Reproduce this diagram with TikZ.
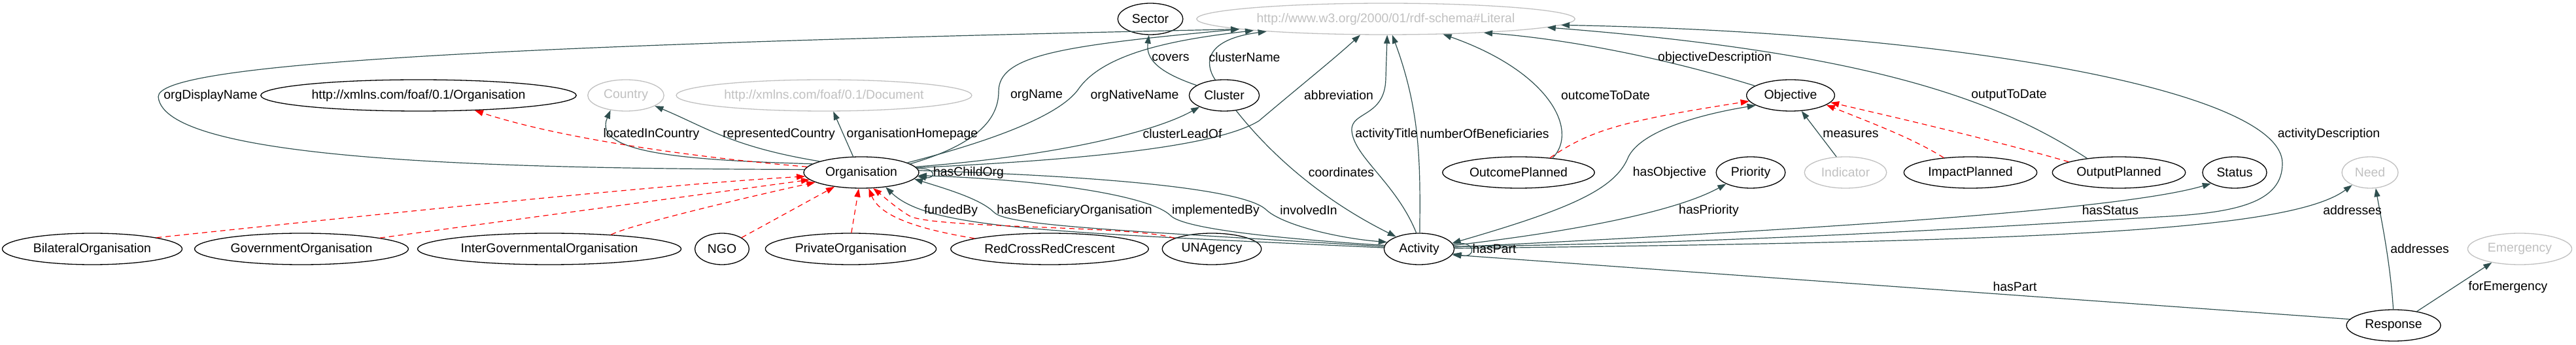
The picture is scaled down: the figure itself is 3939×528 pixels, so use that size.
\documentclass[tikz,border=0pt]{standalone}
\usepackage{fontspec}
\setmainfont{Liberation Sans}
\usetikzlibrary{arrows.meta,shapes.geometric}
\definecolor{edgec}{HTML}{2F4F4F}
\definecolor{ghost}{HTML}{C0C0C0}
\begin{document}
\begin{tikzpicture}[x=0.5pt,y=-0.5pt,font=\fontsize{9.7}{11}\selectfont,
  >={Triangle[length=6.5pt,width=4.6pt]},
  cls/.style={ellipse,draw,line width=0.65pt,minimum height=24pt,inner xsep=3.6pt,inner ysep=0pt},
  ext/.style={cls,draw=ghost,text=ghost},
  rel/.style={->,draw=edgec,line width=0.6pt},
  sub/.style={->,draw=red,dash pattern=on 4pt off 3pt,line width=0.6pt},
  lbl/.style={inner sep=0pt}]
\useasboundingbox (0,0) rectangle (3939,528);
\node[ext] (lit) at (2119,29) {http://www.w3.org/2000/01/rdf-schema\#Literal};
\node[cls] (sector) at (1759,29) {Sector};
\node[cls] (foafOrg) at (640,146) {http://xmlns.com/foaf/0.1/Organisation};
\node[ext] (country) at (957,146) {Country};
\node[ext] (document) at (1260,146) {http://xmlns.com/foaf/0.1/Document};
\node[cls] (cluster) at (1872,146) {Cluster};
\node[cls] (objective) at (2738,146) {Objective};
\node[cls] (org) at (1317,264) {Organisation};
\node[cls] (outcomePlanned) at (2322,264) {OutcomePlanned};
\node[cls] (priority) at (2677,264) {Priority};
\node[ext] (indicator) at (2822,264) {Indicator};
\node[cls] (impactPlanned) at (3013,264) {ImpactPlanned};
\node[cls] (outputPlanned) at (3240,264) {OutputPlanned};
\node[cls] (status) at (3417,264) {Status};
\node[ext] (need) at (3624,264) {Need};
\node[cls] (bilateral) at (141,381) {BilateralOrganisation};
\node[cls] (government) at (461,381) {GovernmentOrganisation};
\node[cls] (interGov) at (840,381) {InterGovernmentalOrganisation};
\node[cls] (ngo) at (1104,381) {NGO};
\node[cls] (privateOrg) at (1301,381) {PrivateOrganisation};
\node[cls] (redCross) at (1605,381) {RedCrossRedCrescent};
\node[cls] (unAgency) at (1853,381) {UNAgency};
\node[cls] (activity) at (2170,381) {Activity};
\node[ext] (emergency) at (3853,381) {Emergency};
\node[cls] (response) at (3660,498) {Response};

\draw[rel] (org.177) .. controls (800,258) and (250,250) .. (242,148) .. controls (242,100) and (700,70) .. (lit.184);
\draw[rel] (org.10) .. controls (1480,225) and (1527,190) .. (1527,140) .. controls (1527,85) and (1620,70) .. (lit.184.5);
\draw[rel] (org.12) .. controls (1500,220) and (1620,180) .. (1650,135) .. controls (1690,80) and (1800,60) .. (lit.185);
\draw[rel] (org.5) .. controls (1650,245) and (1860,225) .. (1925,185) .. controls (1990,130) and (2040,90) .. (lit.212);
\draw[rel] (org.170) .. controls (1050,245) and (905,235) .. (country.224);
\draw[rel] (org.165) .. controls (1120,225) and (1080,195) .. (country.340);
\draw[rel] (org.117) -- (document.300);
\draw[rel] (org.6) .. controls (1600,240) and (1760,205) .. (cluster.205);
\draw[rel] (org.4) .. controls (1432,256) and (1432,274) .. (org.-4);
\draw[rel] (org.2) .. controls (1700,270) and (1900,290) .. (1935,320) .. controls (1960,345) and (2050,365) .. (activity.168);
\draw[rel] (activity.178) .. controls (1600,355) and (1420,350) .. (org.329);
\draw[rel] (activity.176) .. controls (1700,352) and (1540,345) .. (1520,325) .. controls (1500,305) and (1450,290) .. (org.353);
\draw[rel] (activity.174) .. controls (1950,365) and (1810,350) .. (1790,330) .. controls (1760,300) and (1600,275) .. (org.357);
\draw[rel] (cluster.160) .. controls (1770,110) and (1752,90) .. (sector.265);
\draw[rel] (cluster.120) .. controls (1840,95) and (1845,60) .. (lit.186);
\draw[rel] (cluster.308) .. controls (1950,245) and (2030,310) .. (activity.152);
\draw[rel] (activity.100) .. controls (2135,280) and (2070,240) .. (2067,200) .. controls (2065,170) and (2118,180) .. (2119,120) -- (lit.275);
\draw[rel] (activity.88) .. controls (2172,250) and (2172,170) .. (lit.292);
\draw[rel] (outcomePlanned.23) .. controls (2415,200) and (2370,110) .. (lit.345);
\draw[rel] (objective.165) .. controls (2550,90) and (2400,60) .. (lit.352.5);
\draw[rel] (outputPlanned.156) .. controls (3050,150) and (2850,80) .. (lit.357);
\draw[rel] (activity.4) .. controls (2700,372) and (3160,340) .. (3300,332) .. controls (3420,326) and (3490,310) .. (3490,250) .. controls (3490,140) and (3000,50) .. (lit.358.5);
\draw[rel,<->] (activity.10) .. controls (2400,320) and (2470,290) .. (2490,240) .. controls (2510,200) and (2600,175) .. (objective.196);
\draw[rel] (activity.6) .. controls (2400,355) and (2560,325) .. (priority.205);
\draw[rel] (activity.3) .. controls (2800,350) and (3250,320) .. (status.205);
\draw[rel] (activity.1) .. controls (3100,370) and (3500,355) .. (need.215);
\draw[rel] (activity.8) .. controls (2258,366) and (2258,396) .. (activity.-8);
\draw[rel] (response.172) -- (activity.-10);
\draw[rel] (response.91) .. controls (3655,400) and (3640,330) .. (need.290);
\draw[rel] (response.31) -- (emergency.206);
\draw[rel] (indicator.120) -- (objective.305);

\draw[sub] (org.174) .. controls (1050,240) and (850,210) .. (foafOrg.345);
\draw[sub] (bilateral.10) .. controls (700,315) and (1050,280) .. (org.184);
\draw[sub] (government.8) -- (org.188);
\draw[sub] (interGov.13) .. controls (960,345) and (1150,300) .. (org.192);
\draw[sub] (ngo.30) -- (org.208);
\draw[sub] (privateOrg.88) -- (org.261);
\draw[sub] (redCross.172) .. controls (1400,350) and (1345,330) .. (org.295);
\draw[sub] (unAgency.164) .. controls (1740,345) and (1420,350) .. (1390,330) .. controls (1370,318) and (1350,300) .. (org.307);
\draw[sub] (outcomePlanned.25) .. controls (2430,200) and (2480,185) .. (objective.188);
\draw[sub] (impactPlanned.151) .. controls (2930,215) and (2880,195) .. (objective.345);
\draw[sub] (outputPlanned.168) .. controls (3050,215) and (2900,180) .. (objective.350);

\node[lbl] (lOrgDisplayName) at (322,146) {orgDisplayName};
\node[lbl] (lLocatedInCountry) at (996,205) {locatedInCountry};
\node[lbl] (lRepresentedCountry) at (1191,205) {representedCountry};
\node[lbl] (lOrganisationHomepage) at (1395,205) {organisationHomepage};
\node[lbl] (lOrgName) at (1585,146) {orgName};
\node[lbl] (lOrgNativeName) at (1735,146) {orgNativeName};
\node[lbl] (lCovers) at (1790,88) {covers};
\node[lbl] (lClusterName) at (1903,88) {clusterName};
\node[lbl] (lClusterLeadOf) at (1808,205) {clusterLeadOf};
\node[lbl] (lHasChildOrg) at (1481,264) {hasChildOrg};
\node[lbl] (lFundedBy) at (1454,322) {fundedBy};
\node[lbl] (lHasBeneficiaryOrganisation) at (1643,322) {hasBeneficiaryOrganisation};
\node[lbl] (lImplementedBy) at (1859,322) {implementedBy};
\node[lbl] (lInvolvedIn) at (2001,322) {involvedIn};
\node[lbl] (lAbbreviation) at (2047,146) {abbreviation};
\node[lbl] (lActivityTitle) at (2120,205) {activityTitle};
\node[lbl] (lNumberOfBeneficiaries) at (2270,205) {numberOfBeneficiaries};
\node[lbl] (lCoordinates) at (2051,264) {coordinates};
\node[lbl] (lOutcomeToDate) at (2455,146) {outcomeToDate};
\node[lbl] (lObjectiveDescription) at (2622,88) {objectiveDescription};
\node[lbl] (lMeasures) at (2830,205) {measures};
\node[lbl] (lHasObjective) at (2553,264) {hasObjective};
\node[lbl] (lHasPriority) at (2613,322) {hasPriority};
\node[lbl] (lHasPartLoop) at (2285,381) {hasPart};
\node[lbl] (lOutputToDate) at (3072,146) {outputToDate};
\node[lbl] (lActivityDescription) at (3561,205) {activityDescription};
\node[lbl] (lHasStatus) at (3227,322) {hasStatus};
\node[lbl] (lAddressesActivity) at (3597,322) {addresses};
\node[lbl] (lAddressesResponse) at (3700,381) {addresses};
\node[lbl] (lHasPart) at (3081,439) {hasPart};
\node[lbl] (lForEmergency) at (3835,439) {forEmergency};
\end{tikzpicture}
\end{document}
